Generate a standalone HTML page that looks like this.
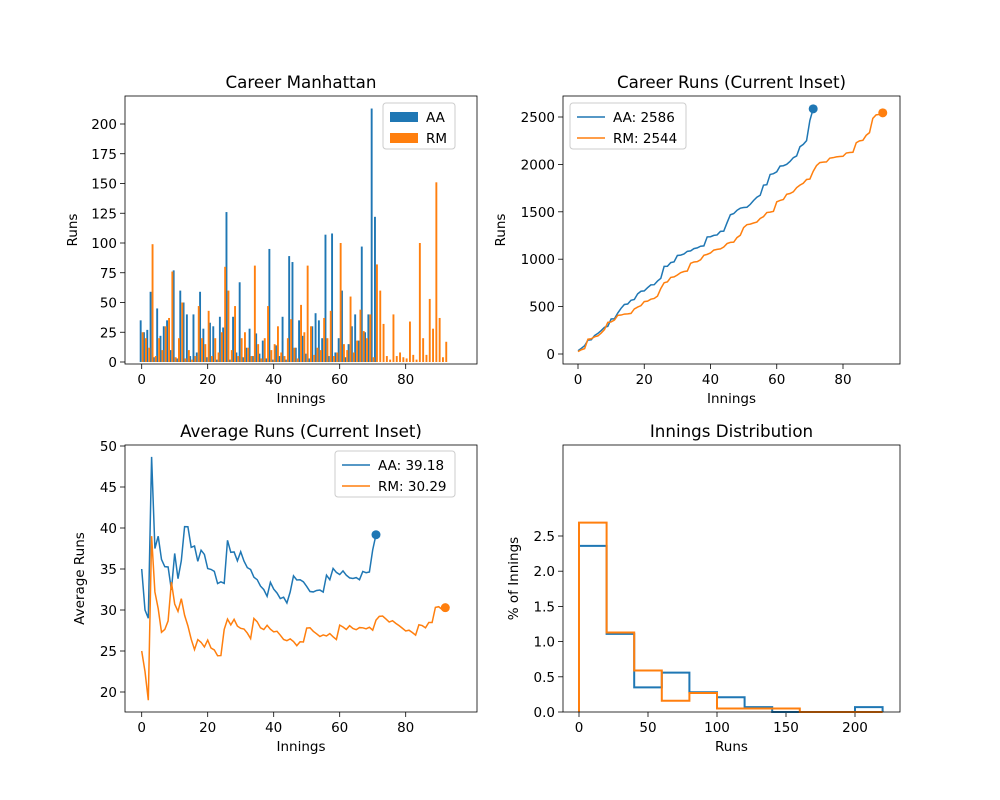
<!DOCTYPE html>
<html><head><meta charset="utf-8">
<style>
html,body{margin:0;padding:0;background:#fff;}
svg{display:block;font-family:"DejaVu Sans","Liberation Sans",sans-serif;}
</style></head>
<body>
<svg id="fig" width="1000" height="800" viewBox="0 0 1000 800" xmlns="http://www.w3.org/2000/svg">
<rect width="1000" height="800" fill="#ffffff"/>
</svg>
<script>
// ---- data ----
const aaRuns = [35,25,27,59,4,45,22,30,35,10, 77,3,60,50,40,5,40,8,59,28, 4,33,30,2,38,29,126,2,38,8, 67,4,12,28,5,24,7,18,3,95, 2,14,5,38,2,89,84,12,35,22, 7,3,30,41,35,20,107,5,108,8, 20,60,4,15,30,40,18,97,25,40, 213,122];
const rmRuns = [25,20,12,99,5,20,10,30,37,76, 4,20,50,3,10,2,5,47,20,15, 43,5,20,8,25,80,60,10,47,5, 20,25,12,5,81,15,3,20,47,10, 15,30,8,5,20,36,12,3,48,25, 81,30,6,12,10,37,20,43,5,8, 100,15,10,55,8,18,44,26,20,40, 4,82,60,32,5,2,40,5,8,4, 3,34,6,2,100,20,6,53,28,151, 37,4,17];
const aaNotOut = [3,13,26,46,56,71];
const rmNotOut = [25,34,50,60,71,84,87,89,92];
const histBins = [0,20,40,60,80,100,120,140,160,180,200,220];
const aaHist = [2.36,1.11,0.35,0.56,0.28,0.21,0.07,0,0,0,0.07];
const rmHist = [2.69,1.13,0.59,0.16,0.27,0.05,0.05,0.05,0,0,0];
const manhattanYTicks = [0,25,50,75,100,125,150,175,200];
const inningsTicks = [0,20,40,60,80];
const careerYTicks = [0,500,1000,1500,2000,2500];
const avgYTicks = [20,25,30,35,40,45,50];
const histXTicks = [0,50,100,150,200];
const histYTicks = [0,0.5,1.0,1.5,2.0,2.5];

const BLUE='#1f77b4', ORANGE='#ff7f0e';
const NS='http://www.w3.org/2000/svg';
const fig=document.getElementById('fig');
function mk(tag,name,attrs,parent,txt){
  const e=document.createElementNS(NS,tag);
  for(const k in attrs) e.setAttribute(k,attrs[k]);
  
  
  if(txt!==undefined) e.textContent=txt;
  (parent||fig).appendChild(e);
  return e;
}
function cumsum(a){let s=0;return a.map(v=>s+=v);}
function averages(a,no){let s=0,d=0;return a.map((v,i)=>{s+=v;if(!no.includes(i))d++;return s/Math.max(d,1);});}

function axes(name,L,R,T,B,xs,ys,xt,yt,title,xl,yl,ylOff,fmt){
  const g=mk('g',name,{},fig);
  mk('text',name+'-title',{x:(L+R)/2,y:T-8,'text-anchor':'middle','font-size':16.7},g,title);
  xt.forEach(v=>{const x=xs(v);
    mk('line',name+'-x-tick',{x1:x,x2:x,y1:B,y2:B+5,stroke:'#000','stroke-width':0.8},g);
    mk('text',name+'-x-tick-label',{x:x,y:B+20,'text-anchor':'middle','font-size':13.5},g,String(v));});
  yt.forEach(v=>{const y=ys(v);
    mk('line',name+'-y-tick',{x1:L-5,x2:L,y1:y,y2:y,stroke:'#000','stroke-width':0.8},g);
    mk('text',name+'-y-tick-label',{x:L-8,y:y+5,'text-anchor':'end','font-size':13.5},g,fmt?fmt(v):String(v));});
  mk('text',name+'-x-axis-title',{x:(L+R)/2,y:B+39,'text-anchor':'middle','font-size':13.5},g,xl);
  const yx=L-ylOff; const ym=(T+B)/2;
  mk('text',name+'-y-axis-title',{x:yx,y:ym,'text-anchor':'middle','font-size':13.5,transform:`rotate(-90 ${yx} ${ym})`},g,yl);
  return g;
}
function frame(g,name,L,R,T,B){mk('rect',name+'-frame',{x:L,y:T,width:R-L,height:B-T,fill:'none',stroke:'#000','stroke-width':0.8},g);}
function legend(g,name,x,y,w,entries,patch){
  mk('rect',name+'-legend-box',{x:x,y:y,width:w,height:46,rx:3,fill:'#fff','fill-opacity':0.8,stroke:'#ccc'},g);
  entries.forEach((en,k)=>{const yy=y+14+k*21;
    if(patch) mk('rect',name+'-legend-swatch',{x:x+7,y:yy-5,width:28,height:10,fill:en[1]},g);
    else mk('line',name+'-legend-line',{x1:x+7,x2:x+35,y1:yy,y2:yy,stroke:en[1],'stroke-width':1.5},g);
    mk('text',name+'-legend-entry',{x:x+43,y:yy+5,'font-size':13.5},g,en[0]);});
}

// ---- Manhattan ----
(function(){
  const L=125,R=477,T=96,B=364;
  const xs=v=>141.7+v*3.3, ys=v=>362-v*1.19;
  const g=axes('manhattan-chart',L,R,T,B,xs,ys,inningsTicks,manhattanYTicks,'Career Manhattan','Innings','Runs',48);
  aaRuns.forEach((v,i)=>{mk('rect','bar-aa',{x:xs(i-0.6),y:ys(v),width:1.9,height:v*1.19,fill:BLUE},g);});
  rmRuns.forEach((v,i)=>{mk('rect','bar-rm',{x:xs(i),y:ys(v),width:1.9,height:v*1.19,fill:ORANGE},g);});
  frame(g,'manhattan-chart',L,R,T,B);
  legend(g,'manhattan',383,103,72,[['AA',BLUE],['RM',ORANGE]],true);
})();

// ---- Career runs ----
(function(){
  const L=563,R=900,T=96,B=364;
  const xs=v=>578+v*3.3125, ys=v=>354-v*0.0948;
  const g=axes('career-chart',L,R,T,B,xs,ys,inningsTicks,careerYTicks,'Career Runs (Current Inset)','Innings','Runs',58);
  [[aaRuns,BLUE,'aa'],[rmRuns,ORANGE,'rm']].forEach(([d,c,n])=>{
    const cs=cumsum(d);
    mk('polyline','career-line-'+n,{points:cs.map((v,i)=>xs(i)+','+ys(v)).join(' '),fill:'none',stroke:c,'stroke-width':1.5},g);
    mk('circle','career-end-marker-'+n,{cx:xs(cs.length-1),cy:ys(cs[cs.length-1]),r:4.5,fill:c},g);
  });
  frame(g,'career-chart',L,R,T,B);
  legend(g,'career',570,103,116,[['AA: '+cumsum(aaRuns).pop(),BLUE],['RM: '+cumsum(rmRuns).pop(),ORANGE]],false);
})();

// ---- Average ----
(function(){
  const L=125,R=477,T=445,B=712;
  const xs=v=>141.7+v*3.3, ys=v=>692-(v-20)*8.2;
  const g=axes('average-chart',L,R,T,B,xs,ys,inningsTicks,avgYTicks,'Average Runs (Current Inset)','Innings','Average Runs',41);
  const aa=averages(aaRuns,aaNotOut), rm=averages(rmRuns,rmNotOut);
  [[aa,BLUE,'aa'],[rm,ORANGE,'rm']].forEach(([d,c,n])=>{
    mk('polyline','average-line-'+n,{points:d.map((v,i)=>xs(i)+','+ys(v)).join(' '),fill:'none',stroke:c,'stroke-width':1.5},g);
    mk('circle','average-end-marker-'+n,{cx:xs(d.length-1),cy:ys(d[d.length-1]),r:4.5,fill:c},g);
  });
  frame(g,'average-chart',L,R,T,B);
  legend(g,'average',335,451,120,[['AA: '+aa[aa.length-1].toFixed(2),BLUE],['RM: '+rm[rm.length-1].toFixed(2),ORANGE]],false);
})();

// ---- Histogram ----
(function(){
  const L=563,R=900,T=445,B=712;
  const xs=v=>579+v*1.38, ys=v=>712-v*70.4;
  const g=axes('histogram-chart',L,R,T,B,xs,ys,histXTicks,histYTicks,'Innings Distribution','Runs','% of Innings',45,v=>v.toFixed(1));
  [[aaHist,BLUE,'aa'],[rmHist,ORANGE,'rm']].forEach(([d,c,n])=>{
    let p=[xs(histBins[0])+','+ys(0)];
    d.forEach((v,i)=>{p.push(xs(histBins[i])+','+ys(v));p.push(xs(histBins[i+1])+','+ys(v));});
    p.push(xs(histBins[histBins.length-1])+','+ys(0));
    mk('polyline','histogram-step-'+n,{points:p.join(' '),fill:'none',stroke:c,'stroke-width':2},g);
  });
  frame(g,'histogram-chart',L,R,T,B);
})();
</script>
</body></html>
